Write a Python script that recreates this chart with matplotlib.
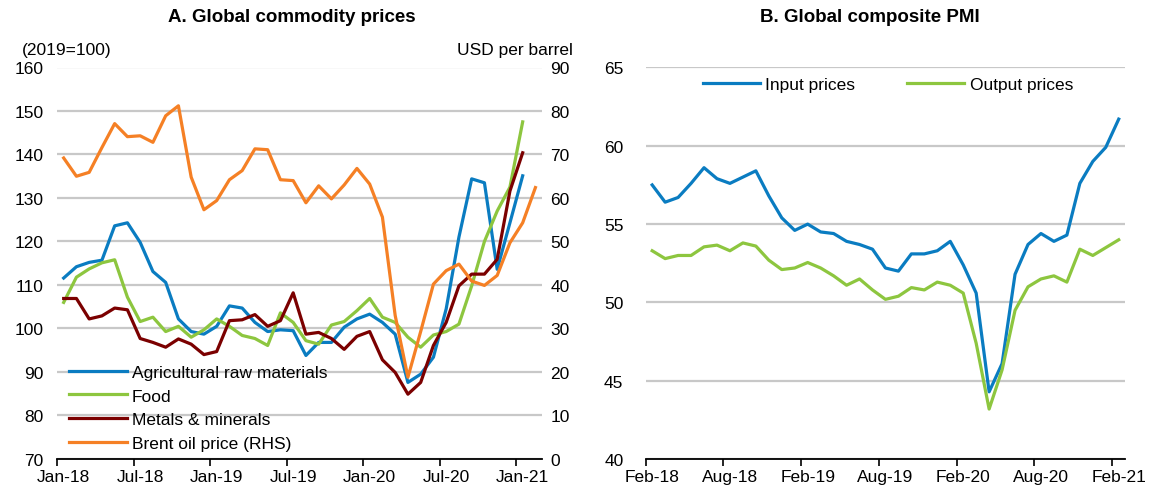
import numpy as np
import matplotlib.pyplot as plt
from matplotlib.ticker import FixedLocator, NullFormatter

plt.rcParams['font.family'] = ['Liberation Sans', 'DejaVu Sans']

# Panel A: monthly, Jan-18 .. Feb-21 (2019=100, Brent in USD per barrel)
a_labels = ["Jan-18", "Jul-18", "Jan-19", "Jul-19", "Jan-20", "Jul-20", "Jan-21"]
agri = [111.6, 114.2, 115.2, 115.7, 123.6, 124.3, 119.8, 113.1, 110.6, 102.2, 99.3, 98.7,
        100.5, 105.2, 104.7, 101.4, 99.3, 99.7, 99.5, 93.8, 96.8, 96.8, 100.3, 102.2,
        103.3, 101.4, 98.7, 87.6, 89.5, 93.4, 104.5, 121.0, 134.4, 133.5, 113.6, 124.3, 135.1]
food = [106.0, 111.8, 113.7, 115.1, 115.8, 107.2, 101.6, 102.6, 99.3, 100.5, 98.0, 99.7,
        102.2, 100.5, 98.4, 97.7, 96.1, 103.6, 101.4, 97.2, 96.4, 100.8, 101.6, 104.1,
        106.9, 102.6, 101.4, 98.0, 95.7, 98.5, 99.3, 101.0, 109.8, 120.0, 127.0, 132.5, 147.5]
metals = [106.9, 106.9, 102.2, 102.9, 104.7, 104.3, 97.7, 96.8, 95.7, 97.6, 96.4, 94.0,
          94.7, 101.8, 102.0, 103.2, 100.5, 101.8, 108.2, 98.7, 99.1, 97.7, 95.2, 98.2,
          99.3, 92.8, 89.9, 84.9, 87.6, 96.1, 101.4, 109.8, 112.5, 112.5, 115.9, 131.6, 140.4]
brent = [69.2, 65.0, 65.9, 71.6, 77.1, 74.1, 74.3, 72.8, 78.9, 81.2, 64.8, 57.3,
         59.4, 64.2, 66.3, 71.3, 71.1, 64.2, 64.0, 58.9, 62.8, 59.8, 63.0, 66.8,
         63.2, 55.6, 33.0, 18.8, 29.3, 40.2, 43.3, 44.8, 40.9, 39.9, 42.2, 49.7, 54.3, 62.4]

# Panel B: monthly, Feb-18 .. Feb-21
b_labels = ["Feb-18", "Aug-18", "Feb-19", "Aug-19", "Feb-20", "Aug-20", "Feb-21"]
input_prices = [57.5, 56.4, 56.7, 57.6, 58.6, 57.9, 57.6, 58.0, 58.4, 56.8, 55.4, 54.6,
                55.0, 54.5, 54.4, 53.9, 53.7, 53.4, 52.2, 52.0, 53.1, 53.1, 53.3, 53.9,
                52.4, 50.6, 44.3, 46.1, 51.8, 53.7, 54.4, 53.9, 54.3, 57.6, 59.0, 59.9, 61.7]
output_prices = [53.3, 52.8, 53.0, 53.0, 53.55, 53.66, 53.3, 53.8, 53.6, 52.7, 52.1, 52.2,
                 52.55, 52.2, 51.7, 51.1, 51.5, 50.8, 50.2, 50.4, 50.95, 50.8, 51.3, 51.1,
                 50.6, 47.4, 43.2, 45.7, 49.5, 51.0, 51.5, 51.7, 51.3, 53.4, 53.0, 53.5, 54.0]

BLUE = "#0a7cc1"
GREEN = "#8dc63f"
MAROON = "#7b0000"
ORANGE = "#f58025"
GRID = "#c8c8c8"
LW = 2.3
FS = 12.5

W, H = 1150, 489
fig = plt.figure(figsize=(W / 100, H / 100), dpi=100)

def px_axes(x0, x1, y0, y1):
    return fig.add_axes([x0 / W, 1 - y1 / H, (x1 - x0) / W, (y1 - y0) / H])

def style_x(ax, n_cat, labels):
    ax.set_xlim(-0.5, n_cat - 0.5)
    ax.xaxis.set_major_locator(FixedLocator(np.arange(-0.5, n_cat - 1, 6)))
    ax.xaxis.set_major_formatter(NullFormatter())
    ax.xaxis.set_minor_locator(FixedLocator(np.arange(0, 6 * len(labels), 6)))
    ax.set_xticklabels(labels, minor=True)
    ax.tick_params(axis='x', which='major', direction='out', length=5, width=1.2, color='black')
    ax.tick_params(axis='x', which='minor', length=0, pad=7, labelsize=FS)
    for s in ['top', 'left', 'right']:
        ax.spines[s].set_visible(False)
    ax.spines['bottom'].set_linewidth(1.3)
    ax.yaxis.grid(True, color=GRID, linewidth=1.6)
    ax.set_axisbelow(True)
    ax.tick_params(axis='y', length=0, labelsize=FS)

# ---- Panel A ----
axA = px_axes(57.3, 541.8, 68.5, 460)
xa = np.arange(len(agri))
xb = np.arange(len(brent))
style_x(axA, 38, a_labels)
axA.set_ylim(70, 160)
axA.set_yticks(np.arange(70, 161, 10))
axA.tick_params(axis='y', pad=10)

axA2 = axA.twinx()
axA2.set_ylim(0, 90)
axA2.set_yticks(np.arange(0, 91, 10))
axA2.tick_params(axis='y', length=0, labelsize=FS, pad=6)
for s in ['top', 'left', 'right', 'bottom']:
    axA2.spines[s].set_visible(False)

l1, = axA.plot(xa, agri, color=BLUE, lw=LW, label="Agricultural raw materials")
l2, = axA.plot(xa, food, color=GREEN, lw=LW, label="Food")
l3, = axA.plot(xa, metals, color=MAROON, lw=LW, label="Metals & minerals")
l4, = axA2.plot(xb, brent, color=ORANGE, lw=LW, label="Brent oil price (RHS)")

legA = axA2.legend(handles=[l1, l2, l3, l4], loc='lower left', bbox_to_anchor=(0.025, 0.02),
                   frameon=False, fontsize=FS, handlelength=3.3, handletextpad=0.3,
                   labelspacing=0.5, borderpad=0, borderaxespad=0)
legA.set_zorder(10)

fig.text(292 / W, 1 - 18 / H, "A. Global commodity prices", ha='center', va='center',
         fontsize=13.5, fontweight='bold')
fig.text(22 / W, 1 - 50 / H, "(2019=100)", ha='left', va='center', fontsize=FS)
fig.text(573 / W, 1 - 50 / H, "USD per barrel", ha='right', va='center', fontsize=FS)

# ---- Panel B ----
axB = px_axes(645.7, 1125.2, 68.4, 460.2)
xp = np.arange(len(input_prices))
style_x(axB, 37, b_labels)
axB.set_ylim(40, 65)
axB.set_yticks(np.arange(40, 66, 5))
axB.tick_params(axis='y', pad=16)
axB.plot(xp, input_prices, color=BLUE, lw=LW, label="Input prices")
axB.plot(xp, output_prices, color=GREEN, lw=LW, label="Output prices")
axB.legend(loc='upper center', bbox_to_anchor=(0.505, 0.975), ncol=2, frameon=False,
           fontsize=FS, handlelength=3.3, handletextpad=0.3, columnspacing=3.0,
           borderpad=0, borderaxespad=0)

fig.text(870 / W, 1 - 18 / H, "B. Global composite PMI", ha='center', va='center',
         fontsize=13.5, fontweight='bold')

fig.savefig("out.png", dpi=100)
